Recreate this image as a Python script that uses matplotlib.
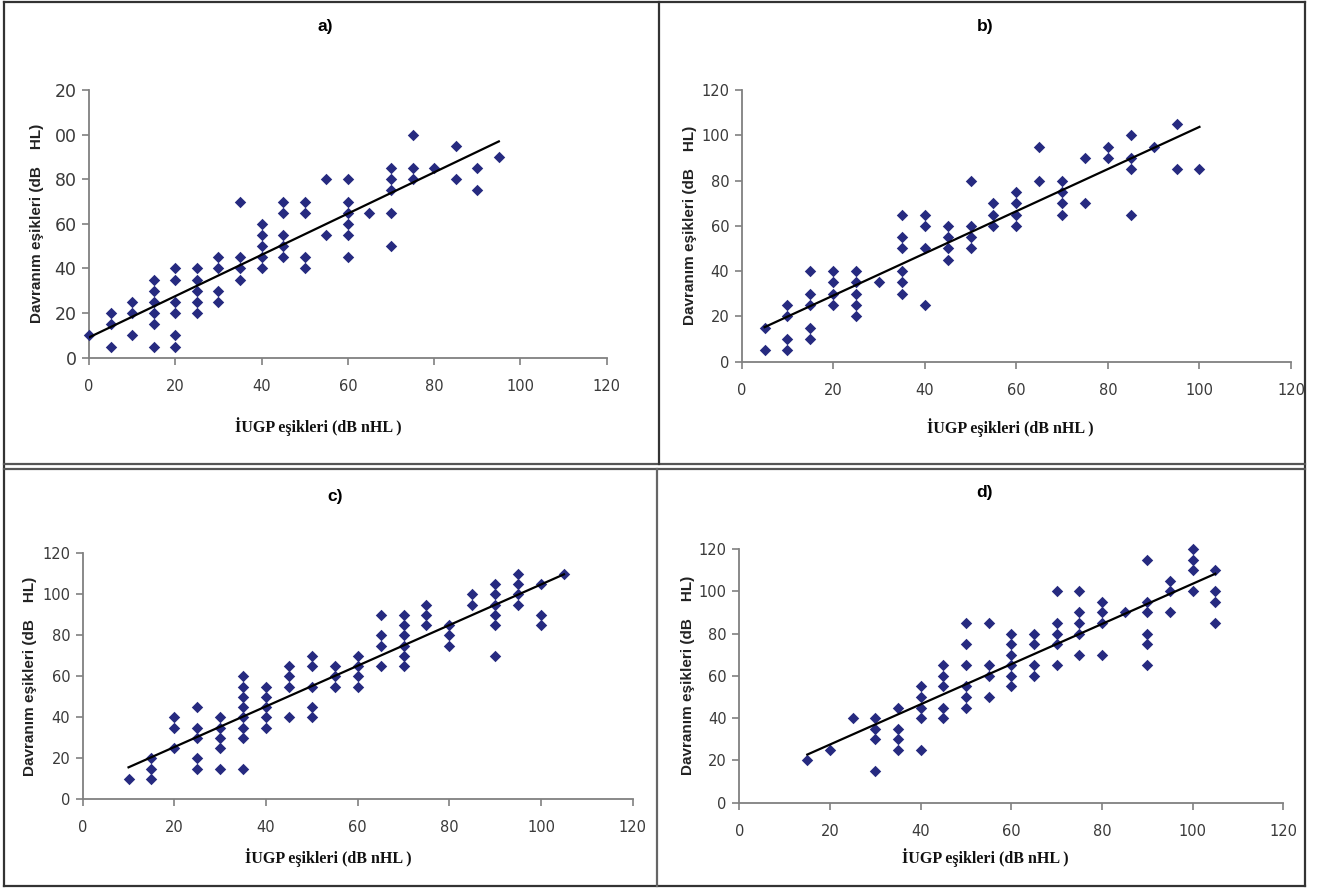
import numpy as np
import matplotlib.pyplot as plt
from matplotlib.lines import Line2D

# a) panel
a_x = [0, 5, 5, 5, 10, 10, 10, 15, 15, 15, 15, 15, 15, 20, 20, 20, 20, 20, 20,
       25, 25, 25, 25, 25, 30, 30, 30, 30, 35, 35, 35, 35, 40, 40, 40, 40, 40,
       45, 45, 45, 45, 45, 50, 50, 50, 50, 55, 55, 60, 60, 60, 60, 60, 60, 65,
       70, 70, 70, 70, 70, 75, 75, 75, 80, 85, 85, 90, 90, 95]
a_y = [10, 20, 15, 5, 25, 20, 10, 35, 30, 25, 20, 15, 5, 40, 35, 25, 20, 10, 5,
       40, 35, 30, 25, 20, 45, 40, 30, 25, 70, 45, 40, 35, 60, 55, 50, 45, 40,
       70, 65, 55, 50, 45, 70, 65, 45, 40, 80, 55, 80, 70, 65, 60, 55, 45, 65,
       85, 80, 75, 65, 50, 100, 85, 80, 85, 95, 80, 85, 75, 90]

# b) panel
b_x = [5, 5, 10, 10, 10, 10, 15, 15, 15, 15, 15, 20, 20, 20, 20, 25, 25, 25, 25,
       25, 30, 35, 35, 35, 35, 35, 35, 40, 40, 40, 40, 45, 45, 45, 45, 50, 50,
       50, 50, 55, 55, 55, 60, 60, 60, 60, 65, 65, 70, 70, 70, 70, 75, 75, 80,
       80, 85, 85, 85, 85, 90, 95, 95, 100]
b_y = [15, 5, 25, 20, 10, 5, 40, 30, 25, 15, 10, 40, 35, 30, 25, 40, 35, 30, 25,
       20, 35, 65, 55, 50, 40, 35, 30, 65, 60, 50, 25, 60, 55, 50, 45, 80, 60,
       55, 50, 70, 65, 60, 75, 70, 65, 60, 95, 80, 80, 75, 70, 65, 90, 70, 95,
       90, 100, 90, 85, 65, 95, 105, 85, 85]

# c) panel
c_x = [10, 15, 15, 15, 20, 20, 20, 25, 25, 25, 25, 25, 30, 30, 30, 30, 30,
       35, 35, 35, 35, 35, 35, 35, 35, 40, 40, 40, 40, 40, 45, 45, 45, 45,
       50, 50, 50, 50, 50, 55, 55, 55, 60, 60, 60, 60, 65, 65, 65, 65,
       70, 70, 70, 70, 70, 70, 75, 75, 75, 80, 80, 80, 85, 85,
       90, 90, 90, 90, 90, 90, 95, 95, 95, 95, 100, 100, 100, 105]
c_y = [10, 20, 15, 10, 40, 35, 25, 45, 35, 30, 20, 15, 40, 35, 30, 25, 15,
       60, 55, 50, 45, 40, 35, 30, 15, 55, 50, 45, 40, 35, 65, 60, 55, 40,
       70, 65, 55, 45, 40, 65, 60, 55, 70, 65, 60, 55, 90, 80, 75, 65,
       90, 85, 80, 75, 70, 65, 95, 90, 85, 85, 80, 75, 100, 95,
       105, 100, 95, 90, 85, 70, 110, 105, 100, 95, 105, 90, 85, 110]

# d) panel
d_x = [15, 20, 25, 30, 30, 30, 30, 35, 35, 35, 35, 40, 40, 40, 40, 40,
       45, 45, 45, 45, 45, 50, 50, 50, 50, 50, 50, 55, 55, 55, 55,
       60, 60, 60, 60, 60, 60, 65, 65, 65, 65, 70, 70, 70, 70, 70,
       75, 75, 75, 75, 75, 80, 80, 80, 80, 85, 90, 90, 90, 90, 90, 90,
       95, 95, 95, 100, 100, 100, 100, 105, 105, 105, 105]
d_y = [20, 25, 40, 40, 35, 30, 15, 45, 35, 30, 25, 55, 50, 45, 40, 25,
       65, 60, 55, 45, 40, 85, 75, 65, 55, 50, 45, 85, 65, 60, 50,
       80, 75, 70, 65, 60, 55, 80, 75, 65, 60, 100, 85, 80, 75, 65,
       100, 90, 85, 80, 70, 95, 90, 85, 70, 90, 115, 95, 90, 80, 75, 65,
       105, 100, 90, 120, 115, 110, 100, 110, 100, 95, 85]

x_ticks = [0, 20, 40, 60, 80, 100, 120]
y_ticks = [0, 20, 40, 60, 80, 100, 120]
a_ytick_labels = ['0', '20', '40', '60', '80', '00', '20']

W, H = 1323, 889
MARKER = '#262A80'
TICKCOL = '#3a3a3a'
SPINE = '#808080'


def px_rect(x0, y0, x1, y1):
    return [x0 / W, 1 - y1 / H, (x1 - x0) / W, (y1 - y0) / H]


def panel(fig, rect, xs, ys, title, title_pos, ylab_x, xlab_pos, ytl=None,
          ytick_size=10.5):
    ax = fig.add_axes(px_rect(*rect))
    ax.scatter(xs, ys, marker='D', s=34, color=MARKER, zorder=3, linewidths=0,
               clip_on=False)
    # linear trendline
    k, b = np.polyfit(xs, ys, 1)
    xl = np.array([min(xs), max(xs)])
    ax.plot(xl, k * xl + b, color='black', lw=1.6, zorder=4)
    ax.set_xlim(0, 120)
    ax.set_ylim(0, 120)
    ax.set_xticks(x_ticks)
    ax.set_yticks(y_ticks)
    if ytl is not None:
        ax.set_yticklabels(ytl)
    for s in ['top', 'right']:
        ax.spines[s].set_visible(False)
    for s in ['left', 'bottom']:
        ax.spines[s].set_color(SPINE)
        ax.spines[s].set_linewidth(1.3)
    ax.tick_params(axis='x', direction='out', length=5, width=1.2, color=SPINE,
                   labelsize=10.5, labelcolor=TICKCOL, pad=10)
    ax.tick_params(axis='y', direction='out', length=5, width=1.2, color=SPINE,
                   labelsize=ytick_size, labelcolor=TICKCOL, pad=4)
    fig.text(title_pos[0] / W, 1 - title_pos[1] / H, title, ha='center',
             va='center', fontsize=12.5, fontweight='bold',
             family=['Liberation Sans', 'DejaVu Sans'])
    y_mid = (rect[1] + rect[3]) / 2
    fig.text(ylab_x / W, 1 - y_mid / H, 'Davranım eşikleri (dB    HL)',
             rotation=90, ha='center', va='center', fontsize=11,
             fontweight='bold', color='#222222',
             family=['Liberation Sans', 'DejaVu Sans'])
    fig.text(xlab_pos[0] / W, 1 - xlab_pos[1] / H, 'İUGP eşikleri (dB nHL )',
             ha='center', va='center', fontsize=11.5, fontweight='bold',
             color='#111111', family=['Liberation Serif', 'DejaVu Serif'])
    return ax


def main():
    fig = plt.figure(figsize=(W / 100, H / 100), dpi=100)
    fig.patch.set_facecolor('white')

    panel(fig, (89, 90, 606.7, 357.7), a_x, a_y, 'a)', (325, 27), 37,
          (318, 427), ytl=a_ytick_labels, ytick_size=12.5)
    panel(fig, (741.7, 90, 1291, 361.7), b_x, b_y, 'b)', (985, 27), 690,
          (1010, 428))
    panel(fig, (82.7, 553.3, 632.7, 799.3), c_x, c_y, 'c)', (335, 497), 30,
          (328, 858))
    panel(fig, (739.3, 549, 1283.3, 802.7), d_x, d_y, 'd)', (985, 493), 688,
          (985, 858))

    # panel frames
    def hline(y, x0, x1, c='#333333', lw=1.6):
        fig.add_artist(Line2D([x0 / W, x1 / W], [1 - y / H, 1 - y / H],
                              color=c, lw=lw))

    def vline(x, y0, y1, c='#333333', lw=1.6):
        fig.add_artist(Line2D([x / W, x / W], [1 - y0 / H, 1 - y1 / H],
                              color=c, lw=lw))

    hline(2, 4, 1305)
    hline(886, 4, 1305)
    vline(4, 2, 886)
    vline(1305, 2, 886)
    hline(464, 4, 1305, c='#555555')
    hline(469, 4, 1305, c='#555555')
    vline(659, 2, 464)
    vline(657, 469, 886, c='#666666')

    plt.savefig('out.png', dpi=100)


if __name__ == "__main__":
    main()
